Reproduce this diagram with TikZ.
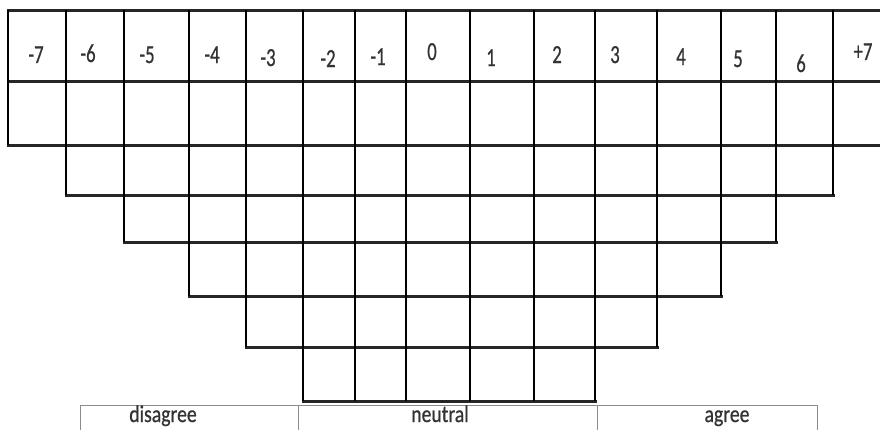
\documentclass[tikz,border=0pt]{standalone}
\usepackage{fontspec}
\setmainfont{Carlito}
\newfontfamily\lblfont{Carlito}[FakeBold=0.8]
\usepackage{graphicx}
\begin{document}
\begin{tikzpicture}[x=1pt,y=-1pt,
  hline/.style={line width=3pt,black!85,line cap=rect},
  vline/.style={line width=2.6pt,black},
  numlbl/.style={anchor=base,inner sep=0pt,font=\lblfont\fontsize{26}{26}\selectfont,text=black!80},
  scalelbl/.style={anchor=base,inner sep=0pt,font=\lblfont\fontsize{24}{24}\selectfont,text=black!80},
  barbox/.style={draw=black!45,line width=1pt}]
\useasboundingbox (0,0) rectangle (880,429);
\clip (0,0) rectangle (880,429);
% horizontal lines
\draw[hline] (8,10) -- (880,10);
\draw[hline] (8,81) -- (880,81);
\draw[hline] (8,145) -- (880,145);
\draw[hline] (66,195) -- (833,195);
\draw[hline] (124,242) -- (776,242);
\draw[hline] (189,296) -- (721,296);
\draw[hline] (246,347) -- (657,347);
\draw[hline] (303,401) -- (595,401);
% vertical lines
\foreach \x/\yb in {8/145, 66/195, 124/242, 189/296, 246/347,
                    303/401, 355/401, 406/401, 470/401, 534/401, 595/401,
                    657/347, 721/296, 776/242, 833/195}
  \draw[vline] (\x,10) -- (\x,\yb);
% header labels
\node[numlbl] (m7) at (36,63) {\scalebox{0.72}[1]{-7}};
\node[numlbl] (m6) at (88,62) {\scalebox{0.72}[1]{-6}};
\node[numlbl] (m5) at (147,63) {\scalebox{0.72}[1]{-5}};
\node[numlbl] (m4) at (212,63) {\scalebox{0.72}[1]{-4}};
\node[numlbl] (m3) at (268,66) {\scalebox{0.72}[1]{-3}};
\node[numlbl] (m2) at (328,67) {\scalebox{0.72}[1]{-2}};
\node[numlbl] (m1) at (378,65) {\scalebox{0.72}[1]{-1}};
\node[numlbl] (z0) at (432,60) {\scalebox{0.72}[1]{0}};
\node[numlbl] (p1) at (491,66) {\scalebox{0.72}[1]{1}};
\node[numlbl] (p2) at (557,63) {\scalebox{0.72}[1]{2}};
\node[numlbl] (p3) at (615,63) {\scalebox{0.72}[1]{3}};
\node[numlbl] (p4) at (681,65) {\scalebox{0.72}[1]{4}};
\node[numlbl] (p5) at (738,67) {\scalebox{0.72}[1]{5}};
\node[numlbl] (p6) at (801,72) {\scalebox{0.72}[1]{6}};
\node[numlbl] (p7) at (863,60) {\scalebox{0.72}[1]{+7}};
% bottom bar
\draw[barbox] (80,405) rectangle (298,432);
\draw[barbox] (298,405) rectangle (597,432);
\draw[barbox] (597,405) rectangle (817,432);
\node[scalelbl] (dis) at (163,422) {\scalebox{0.82}[1]{disagree}};
\node[scalelbl] (neu) at (440,422) {\scalebox{0.82}[1]{neutral}};
\node[scalelbl] (agr) at (727,422) {\scalebox{0.82}[1]{agree}};
\end{tikzpicture}
\end{document}
